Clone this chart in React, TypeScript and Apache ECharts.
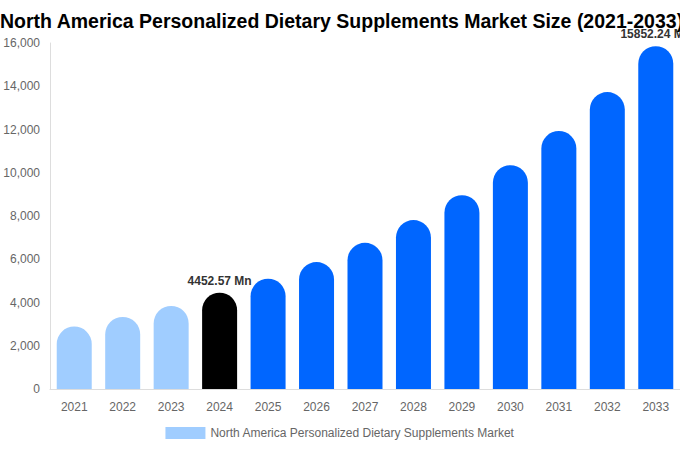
import React, { useEffect, useRef } from "react";
import * as echarts from "echarts";

const years = ["2021", "2022", "2023", "2024", "2025", "2026", "2027", "2028", "2029", "2030", "2031", "2032", "2033"];
const values = [2890, 3330, 3840, 4452.57, 5100, 5870, 6760, 7810, 8960, 10350, 11930, 13730, 15852.24];
const historicColor = "#a0cdff";
const baseColor = "#000000";
const forecastColor = "#0066ff";
const labelledIndices = [3, 12];
const seriesName = "North America Personalized Dietary Supplements Market";
const titleText = "North America Personalized Dietary Supplements Market Size (2021-2033)";

export default function App() {
  const ref = useRef<HTMLDivElement>(null);
  useEffect(() => {
    if (!ref.current) return;
    const chart = echarts.init(ref.current, undefined, { renderer: "svg" });
    const data = values.map((v, i) => ({
      value: v,
      itemStyle: { color: i < 3 ? historicColor : i === 3 ? baseColor : forecastColor },
      label: {
        show: labelledIndices.includes(i),
        position: "top",
        distance: 6,
        formatter: (p: any) => `${p.value} Mn`,
        fontSize: 12,
        fontWeight: "bold",
        color: "#333",
        fontFamily: "Liberation Sans, Arial, sans-serif",
      },
    }));
    chart.setOption({
      animation: false,
      textStyle: { fontFamily: "Liberation Sans, Arial, sans-serif" },
      title: {
        text: titleText,
        left: 0,
        top: 11,
        padding: 0,
        textStyle: { fontSize: 19.5, fontWeight: "bold", color: "#000", fontFamily: "Liberation Sans, Arial, sans-serif" },
      },
      legend: {
        bottom: 6,
        left: "center",
        itemWidth: 40,
        itemHeight: 12,
        itemGap: 6,
        data: [{ name: seriesName, itemStyle: { color: historicColor } }],
        textStyle: { color: "#666", fontSize: 12 },
        icon: "rect",
      },
      grid: { left: 50, right: 0, top: 43, bottom: 61 },
      xAxis: {
        type: "category",
        data: years,
        axisLine: { lineStyle: { color: "#ddd" } },
        axisTick: { show: false },
        axisLabel: { color: "#666", fontSize: 12, margin: 12 },
      },
      yAxis: {
        type: "value",
        min: 0,
        max: 16000,
        interval: 2000,
        axisLine: { show: true, lineStyle: { color: "#ddd" } },
        axisTick: { show: false },
        splitLine: { show: false },
        axisLabel: { color: "#666", fontSize: 12, margin: 10 },
      },
      series: [
        {
          name: seriesName,
          type: "bar",
          data,
          barWidth: 35,
          itemStyle: { borderRadius: [17.5, 17.5, 0, 0] },
        },
      ],
    });
    return () => chart.dispose();
  }, []);
  return <div ref={ref} style={{ width: 680, height: 450, position: "absolute", left: 0, top: 0 }} />;
}
